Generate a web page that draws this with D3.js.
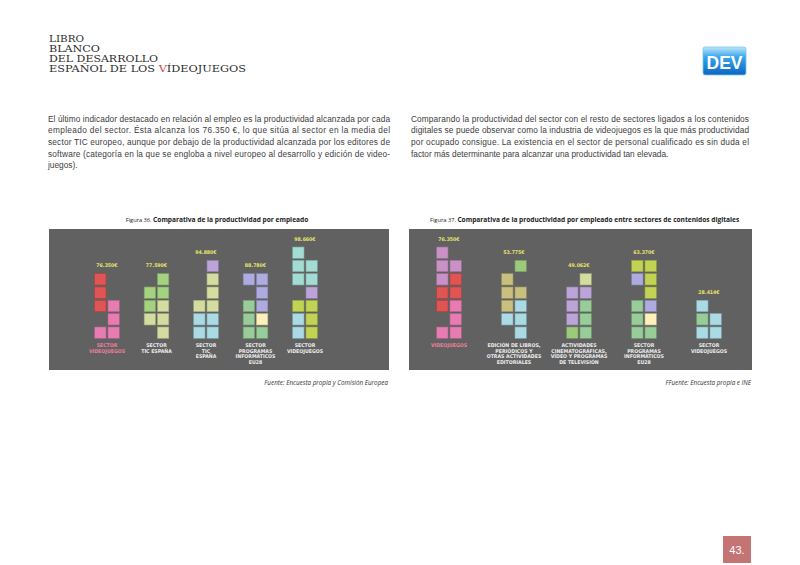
<!DOCTYPE html>
<html>
<head>
<meta charset="utf-8">
<script src="https://cdn.jsdelivr.net/npm/d3@7"></script>
<style>
  body { margin: 0; background: #fff; }
  svg { display: block; }
</style>
</head>
<body>
<svg id="page" width="800" height="565"></svg>
<script>
// --- data ---
const headerLines = ["LIBRO", "BLANCO", "DEL DESARROLLO", "ESPAÑOL DE LOS VÍDEOJUEGOS"]

const leftParagraph = [
    "El último indicador destacado en relación al empleo es la productividad alcanzada por cada",
    "empleado del sector. Ésta alcanza los 76.350 €, lo que sitúa al sector en la media del",
    "sector TIC europeo, aunque por debajo de la productividad alcanzada por los editores de",
    "software (categoría en la que se engloba a nivel europeo al desarrollo y edición de video-",
    "juegos)."
]
const rightParagraph = [
    "Comparando la productividad del sector con el resto de sectores ligados a los contenidos",
    "digitales se puede observar como la industria de videojuegos es la que más productividad",
    "por ocupado consigue. La existencia en el sector de personal cualificado es sin duda el",
    "factor más determinante para alcanzar una productividad tan elevada."
]

// Figura 36
const fig36Categories = [
    ["SECTOR", "VIDEOJUEGOS"],
    ["SECTOR", "TIC ESPAÑA"],
    ["SECTOR", "TIC", "ESPAÑA"],
    ["SECTOR", "PROGRAMAS", "INFORMÁTICOS", "EU28"],
    ["SECTOR", "VIDEOJUEGOS"]
]
const fig36Values = [76350, 77590, 94880, 88780, 98660]
// block stacks, rows listed top -> bottom, two columns each ("." = empty)
const fig36Blocks = [
    ["R.", "R.", "RP", ".P", "PP"],
    [".G", "GG", "GL", "LL", ".L"],
    [".U", ".L", ".L", "LL", "CC", "CC"],
    ["VV", ".V", "NV", "NY", "NN"],
    ["T.", "TT", "TT", ".U", "KK", "CK", "CK"]
]

// Figura 37
const fig37Categories = [
    ["VIDEOJUEGOS"],
    ["EDICIÓN DE LIBROS,", "PERIÓDICOS Y", "OTRAS ACTIVIDADES", "EDITORIALES"],
    ["ACTIVIDADES", "CINEMATOGRÁFICAS,", "VÍDEO Y PROGRAMAS", "DE TELEVISIÓN"],
    ["SECTOR", "PROGRAMAS", "INFORMÁTICOS", "EU28"],
    ["SECTOR", "VIDEOJUEGOS"]
]
const fig37Values = [76350, 53775, 49062, 63370, 28414]
const fig37Blocks = [
    ["M.", "MM", "MR", "RR", "RP", ".P", "PP"],
    [".E", "H.", "HH", "HC", "CC", ".C"],
    [".L", "UU", "UN", "UN", "EN"],
    ["KK", "VK", ".K", "NV", "NY", "NN"],
    ["C.", "NC", "CC"]
]

const blockColors = {
    R: "#e05454", P: "#e77cb3", G: "#a4d280", L: "#d4dca0", U: "#bca3d8",
    C: "#aadbe5", V: "#aeabe1", N: "#98cc98", Y: "#fdf0ba", T: "#a3dcd2",
    K: "#c2d354", M: "#c991c6", H: "#c9bf7e", E: "#9cca7a"
}

const euro = d3.formatLocale({decimal: ",", thousands: ".", grouping: [3], currency: ["", "€"]})
const fmtValue = v => euro.format(",")(v) + "€"

const svg = d3.select("#page")

// --- header ---
const header = svg.append("g")
    .attr("font-family", "DejaVu Serif, serif")
    .attr("font-size", 10)
    .attr("fill", "#2b2b2b")
const headerWidths = [35, 51, 109, 197]
headerLines.forEach((line, i) => {
    const t = header.append("text")
        .attr("x", 49)
        .attr("y", 41.8 + i * 10.2)
        .attr("textLength", headerWidths[i])
        .attr("lengthAdjust", "spacingAndGlyphs")
    if (line.includes("VÍDEO")) {
        const k = line.indexOf("VÍDEO")
        t.append("tspan").text(line.slice(0, k))
        t.append("tspan").attr("fill", "#c8424e").text("V")
        t.append("tspan").text(line.slice(k + 1))
    } else {
        t.text(line)
    }
})

// logo
const defs = svg.append("defs")
const grad = defs.append("linearGradient").attr("id", "logoGrad").attr("x1", 0).attr("y1", 0).attr("x2", 0).attr("y2", 1)
grad.append("stop").attr("offset", "0%").attr("stop-color", "#bfe6fb")
grad.append("stop").attr("offset", "35%").attr("stop-color", "#39a8ee")
grad.append("stop").attr("offset", "100%").attr("stop-color", "#0b64c2")
svg.append("rect")
    .attr("x", 703).attr("y", 47).attr("width", 43).attr("height", 28).attr("rx", 2)
    .attr("fill", "url(#logoGrad)")
    .attr("stroke", "#7cc4ee").attr("stroke-width", 0.8)
svg.append("text")
    .attr("x", 724.5).attr("y", 68.5)
    .attr("text-anchor", "middle")
    .attr("font-family", "Liberation Sans, Arial, sans-serif")
    .attr("font-weight", "bold")
    .attr("font-size", 19)
    .attr("textLength", 36)
    .attr("lengthAdjust", "spacingAndGlyphs")
    .attr("fill", "#fff")
    .text("DEV")

// --- body text, justified ---
function paragraph(lines, x, width) {
    const g = svg.append("g")
        .attr("font-family", "Liberation Sans, Arial, sans-serif")
        .attr("font-size", 8.3)
        .attr("fill", "#3c3c3c")
    lines.forEach((line, i) => {
        const t = g.append("text")
            .attr("x", x)
            .attr("y", 121.6 + i * 11.7)
            .text(line)
        if (i < lines.length - 1) {
            t.attr("textLength", width).attr("lengthAdjust", "spacing")
        }
    })
}
paragraph(leftParagraph, 48, 342)
paragraph(rightParagraph, 411, 338)

// --- pictogram charts ---
function drawPictogram(opts) {
    const g = svg.append("g")

    g.append("rect")
        .attr("x", opts.panel[0]).attr("y", 229)
        .attr("width", opts.panel[1] - opts.panel[0]).attr("height", 141)
        .attr("fill", "#616161")

    const x = d3.scalePoint()
        .domain(d3.range(opts.values.length))
        .range(opts.xRange)
    const sub = d3.scaleBand()
        .domain([0, 1])
        .range([-12.3, 12.3])
        .paddingInner(0.15)
    const row = d3.scaleLinear()
        .domain([0, 1])
        .range([327, 313.67])
    const size = sub.bandwidth()

    const cells = []
    opts.blocks.forEach((stack, ci) => {
        stack.forEach((pair, ri) => {
            const r = stack.length - 1 - ri
            pair.split("").forEach((key, side) => {
                if (key !== ".") cells.push({ci, r, side, key})
            })
        })
    })

    g.selectAll(".block")
        .data(cells)
        .join("rect")
            .attr("class", "block")
            .attr("x", d => x(d.ci) + sub(d.side))
            .attr("y", d => row(d.r))
            .attr("width", size)
            .attr("height", size)
            .attr("fill", d => blockColors[d.key])
            .attr("stroke", d => d3.color(blockColors[d.key]).darker(0.7))
            .attr("stroke-width", 0.6)

    // value labels above each stack
    g.selectAll(".value")
        .data(opts.values)
        .join("text")
            .attr("class", "value")
            .attr("x", (d, i) => x(i))
            .attr("y", (d, i) => row(opts.blocks[i].length - 1) - 6.5)
            .attr("text-anchor", "middle")
            .attr("font-family", "DejaVu Sans Condensed, sans-serif")
            .attr("font-weight", "bold")
            .attr("font-size", 5.2)
            .attr("fill", "#e9e26c")
            .text(d => fmtValue(d))

    // category labels
    const cat = g.selectAll(".cat")
        .data(opts.categories)
        .join("text")
            .attr("class", "cat")
            .attr("x", (d, i) => x(i))
            .attr("y", 346.8)
            .attr("text-anchor", "middle")
            .attr("font-family", "DejaVu Sans Condensed, sans-serif")
            .attr("font-weight", "bold")
            .attr("font-size", 5.2)
            .attr("fill", (d, i) => i === 0 ? "#ea7f9c" : "#ececec")
    cat.selectAll("tspan")
        .data(d => d)
        .join("tspan")
            .attr("x", function() { return d3.select(this.parentNode).attr("x") })
            .attr("dy", (d, i) => i === 0 ? 0 : 5.7)
            .text(d => d)

    // title
    const title = g.append("text")
        .attr("x", opts.titleX)
        .attr("y", 222)
        .attr("text-anchor", opts.titleAnchor)
        .attr("font-family", "Open Sans, sans-serif")
        .attr("fill", "#222")
    title.append("tspan").attr("font-size", 5.7).text(opts.figure + " ")
    title.append("tspan").attr("font-size", 6.6).attr("font-weight", "bold").text(opts.title)

    // source
    g.append("text")
        .attr("x", opts.panel[1] - 1)
        .attr("y", 384.5)
        .attr("text-anchor", "end")
        .attr("font-family", "Open Sans, sans-serif")
        .attr("font-style", "italic")
        .attr("font-size", 6.3)
        .attr("fill", "#333")
        .text(opts.source)
}

drawPictogram({
    panel: [49, 389],
    xRange: [107, 305],
    values: fig36Values,
    blocks: fig36Blocks,
    categories: fig36Categories,
    figure: "Figura 36.",
    title: "Comparativa de la productividad por empleado",
    titleX: 217,
    titleAnchor: "middle",
    source: "Fuente: Encuesta propia y Comisión Europea"
})

drawPictogram({
    panel: [409, 752],
    xRange: [449, 709],
    values: fig37Values,
    blocks: fig37Blocks,
    categories: fig37Categories,
    figure: "Figura 37.",
    title: "Comparativa de la productividad por empleado entre sectores de contenidos digitales",
    titleX: 430,
    titleAnchor: "start",
    source: "FFuente: Encuesta propia e INE"
})

// page number
svg.append("rect")
    .attr("x", 723).attr("y", 536).attr("width", 28).attr("height", 27)
    .attr("fill", "#c47474")
svg.append("text")
    .attr("x", 737).attr("y", 553.8)
    .attr("text-anchor", "middle")
    .attr("font-family", "Liberation Sans, Arial, sans-serif")
    .attr("font-size", 11)
    .attr("fill", "#fff")
    .text("43.")
</script>
</body>
</html>
